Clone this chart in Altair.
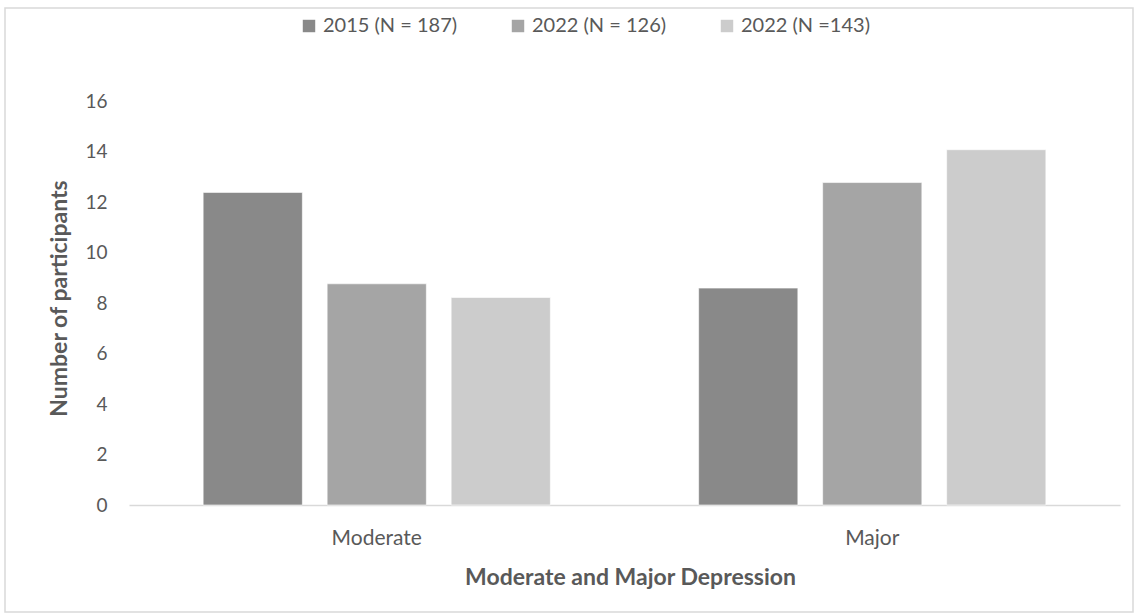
import altair as alt
import pandas as pd

# Share of participants by depression severity and survey wave
categories = ["Moderate", "Major"]
series = ["2015 (N = 187)", "2022 (N = 126)", "2022 (N =143)"]
values_2015 = [12.38, 8.59]
values_2022a = [8.76, 12.77]
values_2022b = [8.22, 14.07]
colors = ["#898989", "#a5a5a5", "#cccccc"]
y_ticks = [0, 2, 4, 6, 8, 10, 12, 14, 16]

rows = []
for s, vals in zip(series, [values_2015, values_2022a, values_2022b]):
    for c, v in zip(categories, vals):
        rows.append({"category": c, "series": s, "value": v})
df = pd.DataFrame(rows)

TEXT = "#595959"
FONT = "Lato"
W, H = 991, 404
PAD_L, PAD_T, PAD_R, PAD_B = 129, 101, 17, 111

bars = alt.Chart(df).mark_bar(stroke="white", strokeWidth=0.6).encode(
    x=alt.X(
        "category:N",
        sort=categories,
        scale=alt.Scale(paddingInner=0, paddingOuter=0),
        axis=alt.Axis(
            title="Moderate and Major Depression",
            titleX=501,
            labelAngle=0,
            labelFontSize=21,
            labelPadding=22,
            titleFontSize=23,
            titleFontWeight="bold",
            titlePadding=18,
            ticks=False,
            domainColor="#d9d9d9",
            domainWidth=1.5,
        ),
    ),
    xOffset=alt.XOffset(
        "series:N",
        sort=series,
        scale=alt.Scale(paddingInner=0.2, paddingOuter=0.598),
    ),
    y=alt.Y(
        "value:Q",
        scale=alt.Scale(domain=[0, 16], nice=False),
        axis=alt.Axis(
            title="Number of participants",
            titleY=197,
            values=y_ticks,
            labelFontSize=19,
            labelPadding=22,
            titleFontSize=23,
            titleFontWeight="bold",
            titlePadding=13,
            ticks=False,
            domain=False,
            grid=False,
        ),
    ),
    color=alt.Color(
        "series:N",
        sort=series,
        scale=alt.Scale(domain=series, range=colors),
        legend=alt.Legend(
            title=None,
            orient="none",
            direction="horizontal",
            legendX=170,
            legendY=-85,
            symbolType="square",
            symbolSize=155,
            symbolStrokeWidth=0,
            labelFontSize=20,
            labelOffset=4,
            columnPadding=50,
        ),
    ),
)

# Light frame around the whole chart area
frame = alt.Chart(pd.DataFrame({"k": [0]})).mark_rect(
    fill=None, stroke="#d9d9d9", strokeWidth=1.5
).encode(
    x=alt.value(-PAD_L + 5),
    x2=alt.value(W + PAD_R - 4),
    y=alt.value(-PAD_T + 8),
    y2=alt.value(H + PAD_B - 4),
)

chart = (
    alt.layer(frame, bars)
    .properties(
        width=W,
        height=H,
        autosize=alt.AutoSizeParams(type="none"),
        padding={"left": PAD_L, "top": PAD_T, "right": PAD_R, "bottom": PAD_B},
        background="white",
    )
    .configure_view(stroke=None)
    .configure_axis(labelColor=TEXT, titleColor=TEXT, labelFont=FONT, titleFont=FONT)
    .configure_legend(labelColor=TEXT, labelFont=FONT)
)

chart.save("out.html", embed_options={"renderer": "svg", "actions": False})
